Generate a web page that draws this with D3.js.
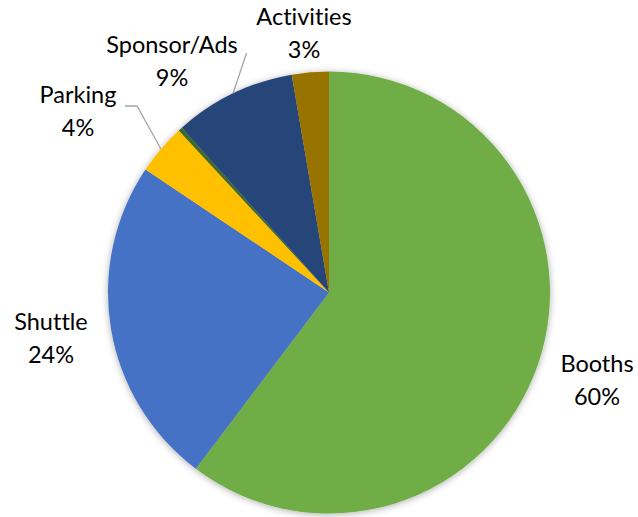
<!DOCTYPE html>
<html>
<head>
<meta charset="utf-8">
<script src="https://cdn.jsdelivr.net/npm/d3@7/dist/d3.min.js"></script>
<style>
  html, body { margin: 0; padding: 0; background: #fff; }
  svg { display: block; }
  text { font-family: Lato, "Open Sans", sans-serif; font-size: 23.5px; fill: #000;
         font-variant-ligatures: none; font-feature-settings: "liga" 0, "clig" 0; }
</style>
</head>
<body>
<script>
// Revenue share by source, clockwise from 12 o'clock
const categories = ["Booths", "Shuttle", "Parking", "Other", "Sponsor/Ads", "Activities"];
const shares = [60.3, 24.1, 3.7, 0.3, 8.9, 2.7];
const colors = ["#70AD47", "#4472C4", "#FFC000", "#43682B", "#264478", "#997300"];
const labelled = [true, true, true, false, true, true];

// Label layout: x = text centre, y = first-line baseline
const labelLayout = {
  "Booths":      { x: 597, y: 372 },
  "Shuttle":     { x: 51,  y: 330 },
  "Parking":     { x: 78,  y: 103 },
  "Sponsor/Ads": { x: 172, y: 53 },
  "Activities":  { x: 304, y: 25 }
};
// Leader line start points (the line runs to the slice's outer edge)
const leaders = {
  "Parking":     [[125, 106], [137, 106]],
  "Sponsor/Ads": [[246.5, 53]]
};

const W = 638, H = 517;
const cx = 329, cy = 292.5, R = 221;
const lineGap = 33;

const svg = d3.select("body").append("svg").attr("width", W).attr("height", H);

const defs = svg.append("defs");
const f = defs.append("filter").attr("id", "pieShadow")
  .attr("x", "-10%").attr("y", "-10%").attr("width", "120%").attr("height", "120%");
f.append("feGaussianBlur").attr("in", "SourceAlpha").attr("stdDeviation", 3.5).attr("result", "b");
f.append("feOffset").attr("in", "b").attr("dx", 0).attr("dy", 1).attr("result", "o");
f.append("feFlood").attr("flood-color", "#000").attr("flood-opacity", 0.32);
f.append("feComposite").attr("in2", "o").attr("operator", "in").attr("result", "s");
const fm = f.append("feMerge");
fm.append("feMergeNode").attr("in", "s");
fm.append("feMergeNode").attr("in", "SourceGraphic");

const data = categories.map((c, i) => ({ name: c, value: shares[i], color: colors[i], show: labelled[i] }));
const total = d3.sum(shares);
const fmt = d3.format(".0%");

const pie = d3.pie().value(d => d.value).sort(null).startAngle(0).endAngle(2 * Math.PI);
const arc = d3.arc().innerRadius(0).outerRadius(R);
const arcs = pie(data);

const g = svg.append("g").attr("transform", `translate(${cx},${cy})`);
g.append("g").attr("filter", "url(#pieShadow)")
  .selectAll("path").data(arcs).join("path")
  .attr("d", arc)
  .attr("fill", d => d.data.color);

// Leader lines from label to the middle of each slice's rim
const edgePoint = d => {
  const a = (d.startAngle + d.endAngle) / 2;
  return [cx + R * Math.sin(a), cy - R * Math.cos(a)];
};
const line = d3.line();
arcs.filter(d => leaders[d.data.name]).forEach(d => {
  const pts = leaders[d.data.name].concat([edgePoint(d)]);
  svg.append("path").attr("d", line(pts))
    .attr("fill", "none").attr("stroke", "#A6A6A6").attr("stroke-width", 1.3);
});

// Category and percentage labels
const labels = svg.append("g");
arcs.filter(d => d.data.show).forEach(d => {
  const p = labelLayout[d.data.name];
  const t = labels.append("text").attr("text-anchor", "middle");
  t.append("tspan").attr("x", p.x).attr("y", p.y).text(d.data.name);
  t.append("tspan").attr("x", p.x).attr("y", p.y + lineGap).text(fmt(d.data.value / total));
});
</script>
</body>
</html>
